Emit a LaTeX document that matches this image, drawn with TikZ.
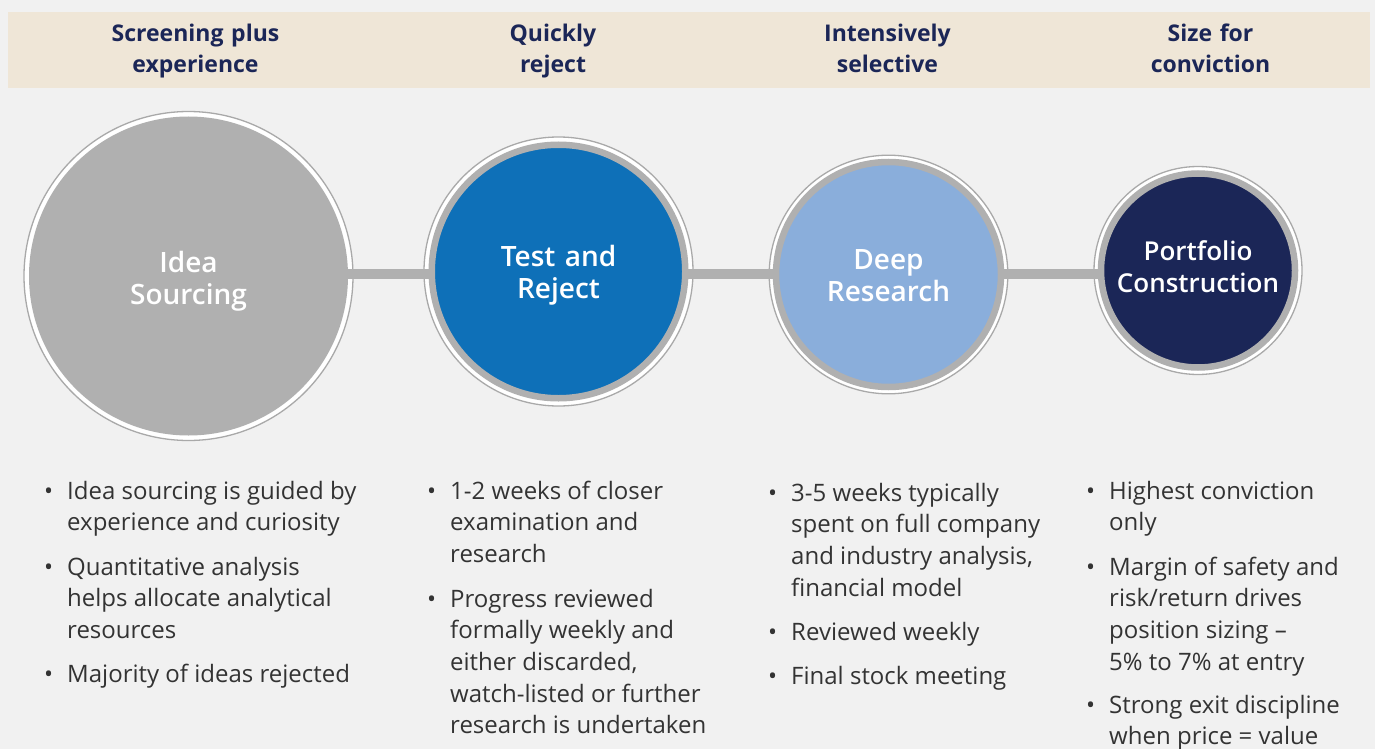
\documentclass[tikz,border=0pt]{standalone}
\usepackage{fontspec}
\setmainfont{Open Sans}
\IfFontExistsTF{Open Sans Semibold}
  {\newfontfamily\stageface{Open Sans Semibold}}
  {\newfontfamily\stageface{Open Sans}[FakeBold=1]}
\usetikzlibrary{positioning}
\definecolor{pagebg}{HTML}{F1F1F1}
\definecolor{bandbg}{HTML}{EFE6D7}
\definecolor{navy}{HTML}{1B2657}
\definecolor{midblue}{HTML}{0E70B8}
\definecolor{paleblue}{HTML}{8AAEDB}
\definecolor{stonegray}{HTML}{B0B0B0}
\definecolor{halogray}{HTML}{A9A9A9}
\definecolor{bodytext}{HTML}{333333}
\newcommand{\headfont}{\bfseries\fontsize{23}{31}\selectfont}
\newcommand{\stagefont}{\stageface\fontsize{28}{32}\selectfont}
\newcommand{\itemfont}{\fontsize{24}{31.7}\selectfont}
\newcommand{\dotmark}{\llap{\textbullet\hspace{14pt}}}
\tikzset{
  halo/.style={circle,fill=white,draw=halogray,line width=1.3pt,inner sep=0pt,minimum size=#1},
  disc/.style={circle,draw=stonegray,line width=6.5pt,inner sep=0pt,minimum size=#1},
  stagetext/.style={text=white,text width=260pt,align=center,anchor=base,inner sep=0pt,font=\stagefont},
  headtext/.style={text=navy,text width=300pt,align=center,anchor=base,inner sep=0pt,font=\headfont},
  itemtext/.style={text=bodytext,anchor=base west,inner sep=0pt,font=\itemfont},
  linkbar/.style={draw=stonegray,line width=9.5pt},
}
% header over each column, first baseline at y=42
\newcommand{\stagehead}[3]{\node[headtext] (#1) at (#2,42) {#3};}
% one bullet point, placed by its first baseline
\newcommand{\stagepoint}[4]{\node[itemtext] (#1) at (#2,#3)
  {\dotmark\begin{tabular}[t]{@{}l@{}}#4\end{tabular}};}

\begin{document}
\begin{tikzpicture}[x=1pt,y=-1pt]
  \useasboundingbox (0,0) rectangle (1375,749);
  \fill[pagebg] (0,0) rectangle (1375,749);
  \fill[bandbg] (8,12) rectangle (1370,88);

  \stagehead{hdidea}{195.5}{Screening plus\\experience}
  \stagehead{hdtest}{553}{Quickly\\reject}
  \stagehead{hddeep}{887.5}{Intensively\\selective}
  \stagehead{hdport}{1210.5}{Size for\\conviction}

  % outer halos
  \node[halo=329] (idea) at (188.5,276) {};
  \node[halo=269] (test) at (558.5,271.5) {};
  \node[halo=238.6] (deep) at (888.5,274.5) {};
  \node[halo=208] (port) at (1198,270.5) {};

  % bar running through the stages
  \coordinate (axis) at (0,274);
  \draw[linkbar] (idea |- axis) -- (port |- axis);

  % filled stage discs
  \node[disc=312.5,fill=stonegray] (ideadisc) at (idea) {};
  \node[disc=253.5,fill=midblue] (testdisc) at (test) {};
  \node[disc=225,fill=paleblue] (deepdisc) at (deep) {};
  \node[disc=194,fill=navy] (portdisc) at (port) {};

  \node[stagetext] (ideaname) at ([yshift=3.3pt]idea.center) {Idea\\Sourcing};
  \node[stagetext] (testname) at ([yshift=4.8pt]test.center) {Test and\\Reject};
  \node[stagetext] (deepname) at ([yshift=5.5pt]deep.center) {Deep\\Research};
  \node[stagetext,font=\stageface\fontsize{26}{32}\selectfont] (portname) at ([yshift=10.5pt]port.center) {Portfolio\\Construction};

  % bullet points under each stage
  \stagepoint{ideaA}{67}{499}{Idea sourcing is guided by\\experience and curiosity}
  \stagepoint{ideaB}{67}{575}{Quantitative analysis\\helps allocate analytical\\resources}
  \stagepoint{ideaC}{67}{682}{Majority of ideas rejected}

  \stagepoint{testA}{450}{499}{1-2 weeks of closer\\examination and\\research}
  \stagepoint{testB}{450}{607}{Progress reviewed\\formally weekly and\\either discarded,\\watch-listed or further\\research is undertaken}

  \stagepoint{deepA}{791}{501}{3-5 weeks typically\\spent on full company\\and industry analysis,\\financial model}
  \stagepoint{deepB}{791}{640}{Reviewed weekly}
  \stagepoint{deepC}{791}{684}{Final stock meeting}

  \stagepoint{portA}{1109}{499}{Highest conviction\\only}
  \stagepoint{portB}{1109}{575}{Margin of safety and\\risk/return drives\\position sizing –\\5\% to 7\% at entry}
  \stagepoint{portC}{1109}{713}{Strong exit discipline\\when price = value}
\end{tikzpicture}
\end{document}
